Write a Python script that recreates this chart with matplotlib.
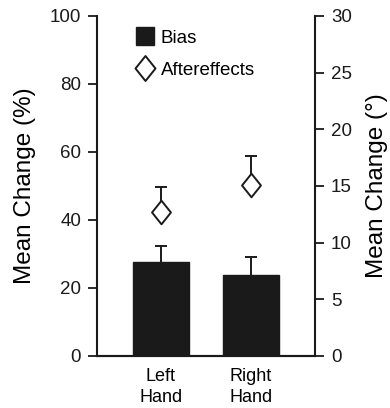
import matplotlib
matplotlib.use("Agg")
import matplotlib.pyplot as plt
import numpy as np
from matplotlib.lines import Line2D
from matplotlib.path import Path

plt.rcParams['font.family'] = ['Liberation Sans', 'DejaVu Sans']

# data
hands = ['Left\nHand', 'Right\nHand']
bias = [27.6, 23.8]          # % (left axis)
bias_err = [4.8, 5.3]
after = [12.7, 15.1]         # degrees (right axis)
after_err = [2.2, 2.55]

# slightly tall diamond marker
diamond = Path([(0, 1), (0.8, 0), (0, -1), (-0.8, 0), (0, 1)],
               [Path.MOVETO, Path.LINETO, Path.LINETO, Path.LINETO, Path.CLOSEPOLY])

ink = '#1a1a1a'


def upper_err(axis, xs, ys, errs, z):
    # one-sided error bar: stem plus a single cap at the top
    tops = np.asarray(ys) + np.asarray(errs)
    axis.vlines(xs, ys, tops, color=ink, linewidth=1.4, zorder=z)
    axis.plot(xs, tops, linestyle='none', marker='_', markersize=9,
              markeredgewidth=1.4, color=ink, zorder=z)


fig = plt.figure(figsize=(3.9, 4.08), dpi=100)
ax = fig.add_axes([0.2487, 0.1275, 0.559, 0.8333])
ax2 = ax.twinx()

x = np.arange(1, len(hands) + 1)
upper_err(ax, x, bias, bias_err, 1)
ax.bar(x, bias, width=0.62, color=ink, edgecolor=ink, zorder=2)

upper_err(ax2, x, after, after_err, 2)
ax2.plot(x, after, linestyle='none', marker=diamond, markersize=17,
         markerfacecolor='white', markeredgecolor=ink, markeredgewidth=1.4, zorder=3)

ax.set_xlim(1 - 64 / 90, 2 + 64 / 90)
ax.set_ylim(0, 100)
ax2.set_ylim(0, 30)
ax.set_yticks([0, 20, 40, 60, 80, 100])
ax2.set_yticks([0, 5, 10, 15, 20, 25, 30])
ax.set_xticks(x)
ax.set_xticklabels(hands, fontsize=13, linespacing=1.3)

for a in (ax, ax2):
    a.spines['top'].set_visible(False)
    for s in a.spines.values():
        s.set_linewidth(1.5)
        s.set_color(ink)
    a.tick_params(axis='y', length=6.5, width=1.3, labelsize=13.5, pad=5, colors=ink)
ax.tick_params(axis='x', length=0, pad=9)
ax.spines['right'].set_visible(False)
ax2.spines['left'].set_visible(False)

ax.set_ylabel('Mean Change (%)', fontsize=17.5, labelpad=10)
ax2.set_ylabel('Mean Change (°)', fontsize=17.5, labelpad=10, rotation=90)

handles = [
    Line2D([0], [0], linestyle='none', marker='s', markersize=13.5,
           markerfacecolor=ink, markeredgecolor=ink, label='Bias'),
    Line2D([0], [0], linestyle='none', marker=diamond, markersize=18,
           markerfacecolor='white', markeredgecolor=ink, markeredgewidth=1.4,
           label='Aftereffects'),
]
ax.legend(handles=handles, loc='upper left', bbox_to_anchor=(0.09, 1.01), frameon=False,
          fontsize=13.5, handletextpad=0.25, labelspacing=0.8, handlelength=1.2)

fig.savefig('out.png', dpi=100)
